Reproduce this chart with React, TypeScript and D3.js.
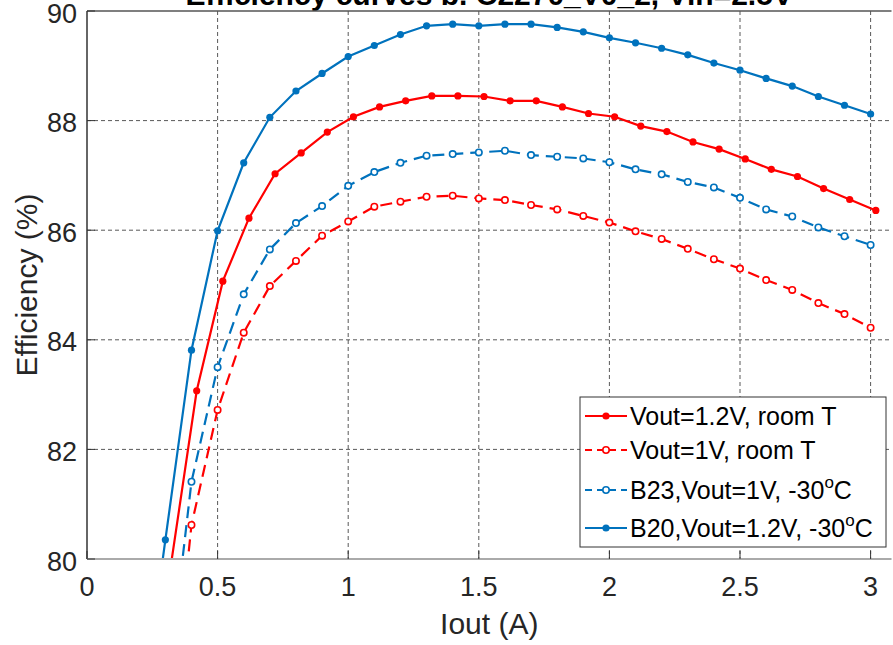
import React from 'react';
import * as d3 from 'd3';

// Iout (A) sample points
const X_B20 = [0.2, 0.3, 0.4, 0.5, 0.6, 0.7, 0.8, 0.9, 1.0, 1.1, 1.2, 1.3, 1.4, 1.5, 1.6, 1.7, 1.8, 1.9, 2.0, 2.1, 2.2, 2.3, 2.4, 2.5, 2.6, 2.7, 2.8, 2.9, 3.0];
const X_ROOM12 = [0.32, 0.42, 0.52, 0.62, 0.72, 0.82, 0.92, 1.02, 1.12, 1.22, 1.32, 1.42, 1.52, 1.62, 1.72, 1.82, 1.92, 2.02, 2.12, 2.22, 2.32, 2.42, 2.52, 2.62, 2.72, 2.82, 2.92, 3.02];
const X_1V = [0.3, 0.4, 0.5, 0.6, 0.7, 0.8, 0.9, 1.0, 1.1, 1.2, 1.3, 1.4, 1.5, 1.6, 1.7, 1.8, 1.9, 2.0, 2.1, 2.2, 2.3, 2.4, 2.5, 2.6, 2.7, 2.8, 2.9, 3.0];

// efficiency (%)
const EFF_ROOM12 = [79.85, 83.07, 85.07, 86.22, 87.03, 87.41, 87.79, 88.07, 88.25, 88.36, 88.45, 88.45, 88.44, 88.36, 88.36, 88.25, 88.13, 88.07, 87.90, 87.80, 87.61, 87.48, 87.30, 87.11, 86.98, 86.76, 86.56, 86.36];
const EFF_ROOM1 = [76.0, 80.62, 82.72, 84.13, 84.98, 85.44, 85.90, 86.16, 86.43, 86.52, 86.61, 86.63, 86.58, 86.55, 86.46, 86.38, 86.26, 86.14, 85.98, 85.84, 85.66, 85.47, 85.30, 85.09, 84.91, 84.67, 84.47, 84.22];
const EFF_B23 = [77.3, 81.41, 83.50, 84.83, 85.65, 86.13, 86.44, 86.81, 87.06, 87.23, 87.36, 87.39, 87.42, 87.45, 87.37, 87.34, 87.31, 87.24, 87.11, 87.02, 86.88, 86.78, 86.59, 86.38, 86.25, 86.05, 85.89, 85.73];
const EFF_B20 = [76.8, 80.35, 83.81, 85.99, 87.23, 88.06, 88.54, 88.86, 89.17, 89.37, 89.57, 89.73, 89.76, 89.73, 89.76, 89.76, 89.70, 89.62, 89.51, 89.42, 89.32, 89.20, 89.05, 88.92, 88.77, 88.63, 88.44, 88.28, 88.12];

const X_TICKS = [0, 0.5, 1, 1.5, 2, 2.5, 3];
const Y_TICKS = [80, 82, 84, 86, 88, 90];

const TITLE = 'Efficiency curves b. C2270_V0_2, Vin=2.5V';

const RED = '#ff0000';
const BLUE = '#0072bd';

const SERIES = [
  { key: 'r12', xs: X_ROOM12, ys: EFF_ROOM12, color: RED, dashed: false, label: 'Vout=1.2V, room T', sup: '' },
  { key: 'r1', xs: X_1V, ys: EFF_ROOM1, color: RED, dashed: true, label: 'Vout=1V, room T', sup: '' },
  { key: 'b23', xs: X_1V, ys: EFF_B23, color: BLUE, dashed: true, label: 'B23,Vout=1V, -30', sup: 'C' },
  { key: 'b20', xs: X_B20, ys: EFF_B20, color: BLUE, dashed: false, label: 'B20,Vout=1.2V, -30', sup: 'C' },
];

const W = 893;
const H = 645;
const FONT = 'Liberation Sans, Arial, sans-serif';

export default function App() {
  const x = d3.scaleLinear().domain([0, 3.08]).range([87, 891.5]);
  const y = d3.scaleLinear().domain([80, 90]).range([559, 11]);
  const [x0, x1] = x.range();
  const [yb, yt] = y.range();

  const line = d3.line<[number, number]>().x(d => x(d[0])).y(d => y(d[1]));

  const legX = 580, legY = 397, legW = 306, legH = 150;
  const rowY = [416, 450, 490, 528];

  const marker = (s: typeof SERIES[number], cx: number, cy: number, k: string) =>
    s.dashed
      ? <circle key={k} cx={cx} cy={cy} r={3.2} fill="#fff" stroke={s.color} strokeWidth={1.6} />
      : <circle key={k} cx={cx} cy={cy} r={3.6} fill={s.color} />;

  return (
    <svg width={W} height={H} style={{ position: 'absolute', left: 0, top: 0, background: '#fff' }} fontFamily={FONT}>
      <defs>
        <clipPath id="plot">
          <rect x={x0} y={yt} width={x1 - x0} height={yb - yt} />
        </clipPath>
      </defs>

      {/* title runs off the top edge, as in the source image */}
      <text x={(x0 + x1) / 2} y={5} textAnchor="middle" fontSize={30} fontWeight="bold" fill="#000">{TITLE}</text>

      {/* grid */}
      {X_TICKS.filter(t => t > 0).map(t => (
        <line key={'gx' + t} x1={x(t)} x2={x(t)} y1={yt} y2={yb} stroke="#222" strokeOpacity={0.75} strokeDasharray="4,3" />
      ))}
      {Y_TICKS.filter(t => t > 80 && t < 90).map(t => (
        <line key={'gy' + t} x1={x0} x2={x1} y1={y(t)} y2={y(t)} stroke="#222" strokeOpacity={0.75} strokeDasharray="4,3" />
      ))}

      {/* data */}
      <g clipPath="url(#plot)">
        {SERIES.map(s => {
          const pts = s.xs.map((v, i) => [v, s.ys[i]] as [number, number]);
          return (
            <g key={s.key}>
              <path d={line(pts) || ''} fill="none" stroke={s.color} strokeWidth={2.2} strokeDasharray={s.dashed ? '12,7' : undefined} />
              {pts.map((p, i) => marker(s, x(p[0]), y(p[1]), s.key + i))}
            </g>
          );
        })}
      </g>

      {/* axes box */}
      <line x1={x0} x2={x1} y1={yt} y2={yt} stroke="#555" strokeWidth={1.5} />
      <line x1={x0} x2={x0} y1={yt} y2={yb} stroke="#333" strokeWidth={1.5} />
      <line x1={x0} x2={x1} y1={yb} y2={yb} stroke="#aaa" strokeWidth={2} />
      {X_TICKS.map(t => (
        <line key={'tx' + t} x1={x(t)} x2={x(t)} y1={yb} y2={yb - 8} stroke="#333" />
      ))}
      {Y_TICKS.map(t => (
        <line key={'ty' + t} x1={x0} x2={x0 + 8} y1={y(t)} y2={y(t)} stroke="#333" />
      ))}

      {/* tick labels */}
      {X_TICKS.map(t => (
        <text key={'lx' + t} x={x(t)} y={596} textAnchor="middle" fontSize={27} fill="#262626">{String(t)}</text>
      ))}
      {Y_TICKS.map(t => (
        <text key={'ly' + t} x={77} y={y(t) + 11.5} textAnchor="end" fontSize={27} fill="#262626">{String(t)}</text>
      ))}

      <text x={(x0 + x1) / 2} y={634} textAnchor="middle" fontSize={30} fill="#262626">Iout (A)</text>
      <text transform={`translate(37,${(yt + yb) / 2}) rotate(-90)`} textAnchor="middle" fontSize={30} fill="#262626">Efficiency (%)</text>

      {/* legend */}
      <rect x={legX} y={legY} width={legW} height={legH} fill="#fff" stroke="#333" strokeWidth={1} />
      {SERIES.map((s, i) => (
        <g key={'leg' + s.key}>
          <line x1={585} x2={627} y1={rowY[i]} y2={rowY[i]} stroke={s.color} strokeWidth={2.2} strokeDasharray={s.dashed ? '7,5' : undefined} />
          {marker(s, 606, rowY[i], 'lm' + i)}
          <text x={630} y={rowY[i] + 9} fontSize={25} fill="#000">
            {s.label}
            {s.sup && <tspan dy={-11} fontSize={17}>o</tspan>}
            {s.sup && <tspan dy={11}>{s.sup}</tspan>}
          </text>
        </g>
      ))}
    </svg>
  );
}
